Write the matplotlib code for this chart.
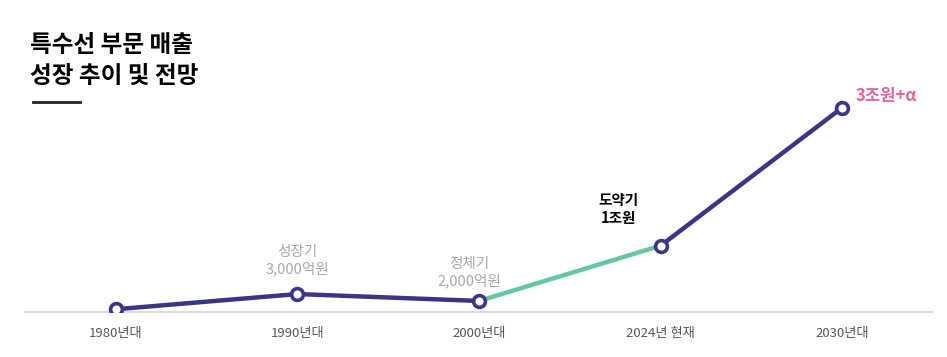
import matplotlib.pyplot as plt
import numpy as np

plt.rcParams['font.family'] = ['Noto Sans CJK KR', 'DejaVu Sans']

# data (억원)
periods = ['1980년대', '1990년대', '2000년대', '2024년 현재', '2030년대']
sales = [800, 3000, 2000, 10000, 30000]

navy = '#3b3584'
green = '#63c7a0'
pink = '#df64a0'

fig = plt.figure(figsize=(9.47, 3.57), dpi=100)
ax = fig.add_axes([25/947, 1-312/357, 908/947, 252/357])

x = np.arange(len(periods))
# navy segments, green segment for 2000 -> 2024
ax.plot(x[:3], sales[:3], color=navy, lw=3.2, solid_capstyle='round', zorder=2)
ax.plot(x[2:4], sales[2:4], color=green, lw=3.2, zorder=2)
ax.plot(x[3:], sales[3:], color=navy, lw=3.2, solid_capstyle='round', zorder=2)
ax.plot(x, sales, ls='none', marker='o', ms=8.5, mfc='white', mec=navy, mew=2.6, zorder=3)

ax.set_xlim(-0.5, 4.5)
ax.set_ylim(400, 36900)
ax.set_xticks(x)
ax.set_xticklabels(periods, fontsize=9.5, color='#555555')
ax.tick_params(axis='x', length=0, pad=11)
ax.set_yticks([])
for s in ['top', 'left', 'right']:
    ax.spines[s].set_visible(False)
ax.spines['bottom'].set_color('#d5d5d5')
ax.spines['bottom'].set_linewidth(1.2)

# annotations
ax.annotate('성장기\n3,000억원', (1, sales[1]), xytext=(0, 13), textcoords='offset points',
            ha='center', va='bottom', fontsize=10.5, color='#a8a8a8', linespacing=1.2)
ax.annotate('정체기\n2,000억원', (2, sales[2]), xytext=(-7, 9), textcoords='offset points',
            ha='center', va='bottom', fontsize=10.5, color='#a8a8a8', linespacing=1.2)
ax.annotate('도약기\n1조원', (3, sales[3]), xytext=(-30, 14), textcoords='offset points',
            ha='center', va='bottom', fontsize=10.5, color='black', fontweight='bold', linespacing=1.15)
ax.annotate('3조원+α', (4, sales[4]), xytext=(10, 2), textcoords='offset points',
            ha='left', va='bottom', fontsize=12, color=pink, fontweight='bold')

# title
fig.text(30/947, 1-45/357, '특수선 부문 매출', fontsize=17, fontweight='black', va='center', ha='left')
fig.text(30/947, 1-76/357, '성장 추이 및 전망', fontsize=17, fontweight='black', va='center', ha='left')
fig.add_artist(plt.Line2D([33/947, 80/947], [1-102/357, 1-102/357], color='#222222', lw=2))

fig.savefig('out.png', dpi=100, facecolor='white')
